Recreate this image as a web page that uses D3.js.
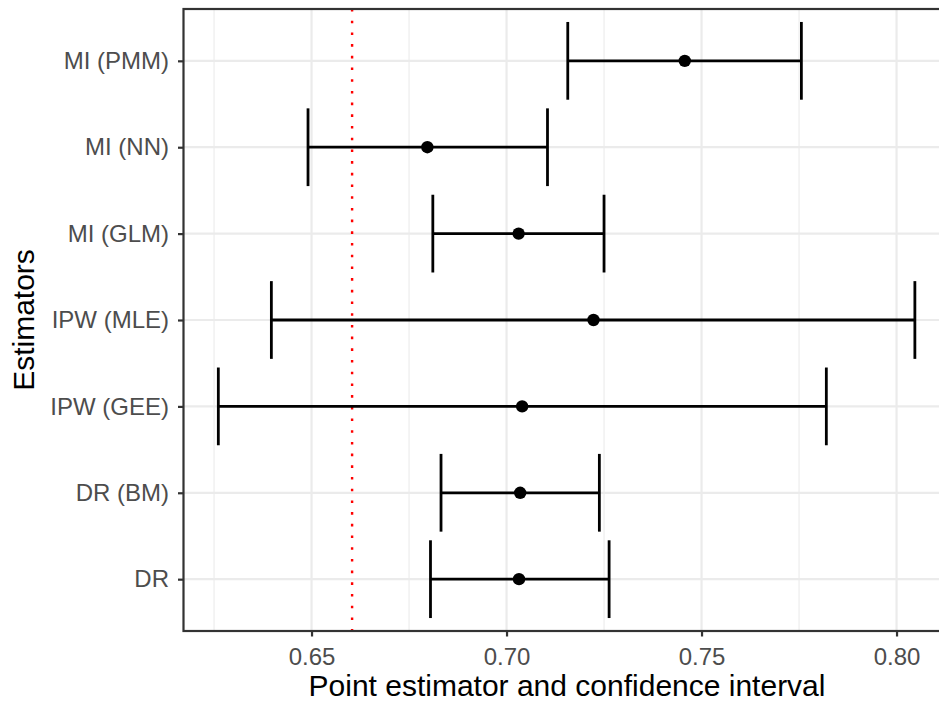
<!DOCTYPE html>
<html>
<head>
<meta charset="utf-8">
<script src="https://cdn.jsdelivr.net/npm/d3@7"></script>
<style>
  body { margin: 0; background: #fff; }
  text { font-family: "Liberation Sans", Arial, sans-serif; }
</style>
</head>
<body>
<div id="chart"></div>
<script>
const estimators = ["MI (PMM)", "MI (NN)", "MI (GLM)", "IPW (MLE)", "IPW (GEE)", "DR (BM)", "DR"]
const pointEst = [0.7457, 0.6797, 0.7031, 0.7223, 0.7040, 0.7035, 0.7032]
const lowerCI  = [0.7157, 0.6491, 0.6811, 0.6397, 0.6261, 0.6832, 0.6805]
const upperCI  = [0.7756, 0.7105, 0.7250, 0.8047, 0.7820, 0.7238, 0.7263]
const refLine = 0.6604
const xTicks = [0.65, 0.70, 0.75, 0.80]
const xMinor = [0.625, 0.675, 0.725, 0.775]

const W = 939, H = 702
const MARGIN = {TOP: 9, LEFT: 183.5, BOTTOM: 71}

const data = estimators.map((d, i) => ({name: d, est: pointEst[i], lo: lowerCI[i], hi: upperCI[i]}))

// ggplot-like 5% expansion
const lo = d3.min(lowerCI), hi = d3.max(upperCI)
const pad = (hi - lo) * 0.05
const PX_PER_UNIT = 3900
const PANEL_W = (hi - lo + 2 * pad) * PX_PER_UNIT
const PANEL_H = H - MARGIN.TOP - MARGIN.BOTTOM

const svg = d3.select("#chart").append("svg")
  .attr("width", W)
  .attr("height", H)

const g = svg.append("g")
  .attr("transform", `translate(${MARGIN.LEFT}, ${MARGIN.TOP})`)

const x = d3.scaleLinear()
  .domain([lo - pad, hi + pad])
  .range([0, PANEL_W])

const y = d3.scalePoint()
  .domain(estimators)
  .range([0, PANEL_H])
  .padding(0.6)

// grid
g.selectAll(".minor").data(xMinor).enter().append("line")
  .attr("x1", d => x(d)).attr("x2", d => x(d))
  .attr("y1", 0).attr("y2", PANEL_H)
  .attr("stroke", "#ebebeb").attr("stroke-width", 1.1)
g.selectAll(".majorx").data(xTicks).enter().append("line")
  .attr("x1", d => x(d)).attr("x2", d => x(d))
  .attr("y1", 0).attr("y2", PANEL_H)
  .attr("stroke", "#ebebeb").attr("stroke-width", 2.2)
g.selectAll(".majory").data(estimators).enter().append("line")
  .attr("x1", 0).attr("x2", PANEL_W)
  .attr("y1", d => y(d)).attr("y2", d => y(d))
  .attr("stroke", "#ebebeb").attr("stroke-width", 2.2)

// reference line
g.append("line")
  .attr("x1", x(refLine)).attr("x2", x(refLine))
  .attr("y1", 0).attr("y2", PANEL_H)
  .attr("stroke", "#ff0000").attr("stroke-width", 2.4)
  .attr("stroke-dasharray", "2.6 9.1")

// error bars
const capH = y.step() * 0.9
const bars = g.selectAll(".bar").data(data).enter().append("g")
bars.append("line")
  .attr("x1", d => x(d.lo)).attr("x2", d => x(d.hi))
  .attr("y1", d => y(d.name)).attr("y2", d => y(d.name))
  .attr("stroke", "#000").attr("stroke-width", 2.8)
bars.append("line")
  .attr("x1", d => x(d.lo)).attr("x2", d => x(d.lo))
  .attr("y1", d => y(d.name) - capH / 2).attr("y2", d => y(d.name) + capH / 2)
  .attr("stroke", "#000").attr("stroke-width", 2.8)
bars.append("line")
  .attr("x1", d => x(d.hi)).attr("x2", d => x(d.hi))
  .attr("y1", d => y(d.name) - capH / 2).attr("y2", d => y(d.name) + capH / 2)
  .attr("stroke", "#000").attr("stroke-width", 2.8)
bars.append("circle")
  .attr("cx", d => x(d.est)).attr("cy", d => y(d.name))
  .attr("r", 6.2).attr("fill", "#000")

// panel border
g.append("rect")
  .attr("x", 0).attr("y", 0)
  .attr("width", PANEL_W).attr("height", PANEL_H)
  .attr("fill", "none").attr("stroke", "#333").attr("stroke-width", 2.2)

// axes
const xAxis = g.append("g")
  .attr("transform", `translate(0, ${PANEL_H})`)
  .call(d3.axisBottom(x).tickValues(xTicks).tickFormat(d3.format(".2f")).tickSize(5.5).tickPadding(11))
xAxis.select(".domain").remove()
xAxis.selectAll("line").attr("stroke", "#333").attr("stroke-width", 2.2)
xAxis.selectAll("text").attr("fill", "#4d4d4d").attr("font-size", "24px")

const yAxis = g.append("g")
  .call(d3.axisLeft(y).tickSize(5.5).tickPadding(9))
yAxis.select(".domain").remove()
yAxis.selectAll("line").attr("stroke", "#333").attr("stroke-width", 2.2)
yAxis.selectAll("text").attr("fill", "#4d4d4d").attr("font-size", "24px")

// X label
svg.append("text")
  .attr("x", 567)
  .attr("y", 696)
  .attr("font-size", "30px")
  .attr("text-anchor", "middle")
  .text("Point estimator and confidence interval")

// Y label
svg.append("text")
  .attr("transform", `translate(34, ${MARGIN.TOP + PANEL_H / 2}) rotate(-90)`)
  .attr("font-size", "30px")
  .attr("text-anchor", "middle")
  .text("Estimators")
</script>
</body>
</html>
